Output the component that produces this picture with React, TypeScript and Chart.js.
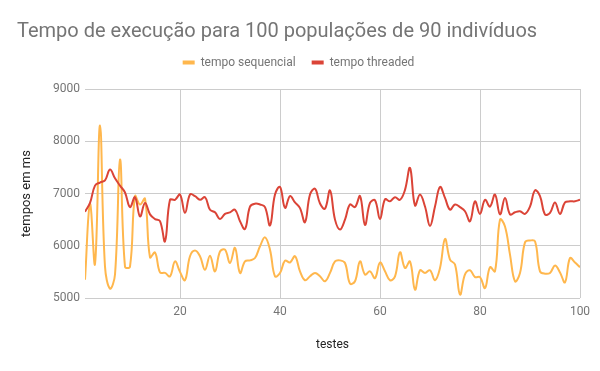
import React, { useEffect, useRef } from 'react';
import { Chart, registerables } from 'chart.js';

Chart.register(...registerables);

const tests: number[] = Array.from({ length: 100 }, (_, i) => i + 1);
const xTicks = [20, 40, 60, 80, 100];
const yTicks = [5000, 6000, 7000, 8000, 9000];

const sequencial = [
  5350, 6800, 5650, 8300, 5600, 5180, 5450, 7650, 5600, 5600,
  6950, 6790, 6900, 5780, 5870, 5490, 5480, 5415, 5700, 5500,
  5340, 5800, 5910, 5800, 5540, 5810, 5510, 5890, 5925, 5670,
  5960, 5480, 5700, 5720, 5765, 5990, 6160, 5925, 5415, 5480,
  5715, 5680, 5800, 5510, 5340, 5415, 5480, 5415, 5320, 5480,
  5700, 5720, 5670, 5275, 5320, 5700, 5450, 5510, 5380, 5680,
  5510, 5340, 5415, 5875, 5575, 5700, 5160, 5530, 5480, 5530,
  5340, 5575, 6130, 5735, 5640, 5065, 5450, 5530, 5400, 5400,
  5190, 5590, 5510, 6500, 6370, 5830, 5320, 5480, 6065, 6100,
  6085, 5510, 5465, 5480, 5620, 5490, 5300, 5765, 5680, 5590,
];

const threaded = [
  6650, 6820, 7150, 7210, 7250, 7460, 7290, 7150, 7020, 6740,
  6930, 6560, 6820, 6600, 6510, 6470, 6085, 6880, 6880, 6980,
  6630, 6980, 6950, 6880, 6930, 6690, 6640, 6510, 6610, 6640,
  6690, 6470, 6320, 6750, 6805, 6790, 6740, 6390, 6980, 7125,
  6725, 6950, 6830, 6720, 6450, 6980, 7090, 6810, 6710, 7060,
  6500, 6310, 6500, 6790, 6740, 6950, 6400, 6820, 6870, 6510,
  6890, 6850, 6930, 6880, 7070, 7490, 6770, 6980, 6750, 6380,
  6750, 7125, 6915, 6690, 6790, 6740, 6660, 6470, 6850, 6610,
  6880, 6750, 6980, 6600, 6915, 6600, 6640, 6660, 6610, 6750,
  7060, 6950, 6600, 6630, 6830, 6610, 6830, 6850, 6850, 6880,
];

const FONT = 'Roboto';

export default function App() {
  const ref = useRef<HTMLCanvasElement>(null);

  useEffect(() => {
    const canvas = ref.current;
    if (!canvas) return;
    const chart = new Chart(canvas, {
      type: 'line',
      data: {
        labels: tests,
        datasets: [
          {
            label: 'tempo sequencial',
            data: sequencial,
            borderColor: '#FFB74D',
            backgroundColor: '#FFB74D',
            borderWidth: 2,
            pointRadius: 0,
            tension: 0.4,
            order: 1,
          },
          {
            label: 'tempo threaded',
            data: threaded,
            borderColor: '#DB4437',
            backgroundColor: '#DB4437',
            borderWidth: 2,
            pointRadius: 0,
            tension: 0.4,
            order: 0,
          },
        ],
      },
      options: {
        animation: false,
        responsive: false,
        layout: { padding: { left: 17, right: 20, top: 0, bottom: 0 } },
        plugins: {
          title: {
            display: true,
            text: 'Tempo de execução para 100 populações de 90 indivíduos',
            align: 'start',
            color: '#757575',
            font: { family: FONT, size: 20, weight: 'normal', lineHeight: 1.2 },
            padding: { top: 20, bottom: -3.5 },
          },
          subtitle: {
            display: true,
            text: '',
            position: 'top',
            weight: 500,
            font: { family: FONT, size: 1, lineHeight: 1 },
            padding: { top: 9.5, bottom: 0 },
          },
          legend: {
            position: 'top',
            align: 'center',
            labels: {
              boxWidth: 12,
              boxHeight: 4,
              padding: 16,
              color: '#757575',
              font: { family: FONT, size: 12 },
              generateLabels: (c: any) =>
                Chart.defaults.plugins.legend.labels
                  .generateLabels(c)
                  .map((l: any) => ({ ...l, lineWidth: 0 })),
              sort: (a: any, b: any) => a.datasetIndex - b.datasetIndex,
            },
          },
          tooltip: { enabled: false },
        },
        scales: {
          x: {
            type: 'linear',
            min: 1,
            max: 100,
            afterBuildTicks: (s: any) => {
              s.ticks = xTicks.map((v) => ({ value: v }));
            },
            afterFit: (s: any) => {
              s.height = 73;
            },
            grid: { color: '#cccccc', drawTicks: false },
            border: { display: false },
            ticks: {
              padding: 7,
              color: '#757575',
              font: { family: FONT, size: 12 },
              callback: (v: any) => String(v),
            },
            title: {
              display: true,
              text: 'testes',
              color: '#222222',
              font: { family: FONT, size: 12 },
              padding: { top: 0, bottom: 19 },
            },
          },
          y: {
            min: 5000,
            max: 9000,
            afterBuildTicks: (s: any) => {
              s.ticks = yTicks.map((v) => ({ value: v }));
            },
            afterFit: (s: any) => {
              s.width = 68;
            },
            grid: { color: '#cccccc', drawTicks: false },
            border: { display: false },
            ticks: {
              padding: 5,
              color: '#757575',
              font: { family: FONT, size: 12 },
              callback: (v: any) => String(v),
            },
            title: {
              display: true,
              text: 'tempos em ms',
              color: '#222222',
              font: { family: FONT, size: 13 },
              padding: { top: 1.5, bottom: 0 },
            },
          },
        },
      },
    } as any);
    return () => chart.destroy();
  }, []);

  return (
    <div style={{ position: 'fixed', left: 0, top: 0, width: 600, height: 371, background: '#ffffff' }}>
      <canvas ref={ref} width={600} height={371} style={{ display: 'block', width: 600, height: 371 }} />
    </div>
  );
}
